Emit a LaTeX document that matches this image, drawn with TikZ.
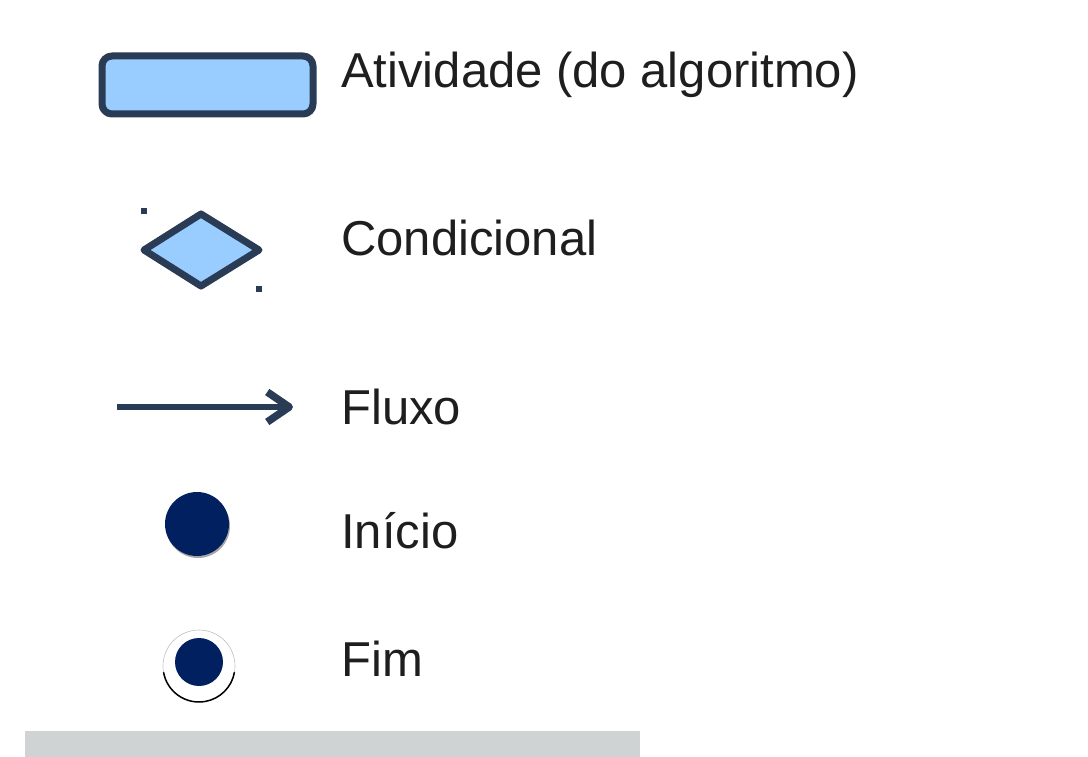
\documentclass[tikz,border=0pt]{standalone}
\usepackage{fontspec}
\setmainfont{Liberation Sans}
\usetikzlibrary{arrows.meta,shapes.geometric}
\definecolor{edgecolor}{HTML}{293B55}
\definecolor{boxfill}{HTML}{99CCFF}
\definecolor{dotcolor}{HTML}{002060}
\definecolor{barcolor}{HTML}{CFD3D4}
\definecolor{textcolor}{HTML}{1E1E1E}

\begin{document}
\begin{tikzpicture}[x=1pt, y=-1pt,
  lbl/.style={anchor=base west, inner sep=0pt, text=textcolor,
              font=\fontsize{49}{59}\selectfont},
  shapeline/.style={draw=edgecolor, line width=7pt, line join=round},
  flow/.style={-{Straight Barb[length=22pt,width=30pt,line width=7.5pt,line join=round]},
               draw=edgecolor, line width=6pt}]
  \useasboundingbox (0,0) rectangle (1088,757);
  % Atividade
  \draw[shapeline, fill=boxfill, rounded corners=10pt] (102,56) rectangle (313,114);
  \node[lbl] (ativ) at (341,88) {Atividade (do algoritmo)};
  % Condicional
  \draw[shapeline, fill=boxfill] (144,250) -- (201,214) -- (259,250) -- (201,286) -- cycle;
  \fill[edgecolor] (141,208) rectangle (147,214);
  \fill[edgecolor] (256,286) rectangle (262,292);
  \node[lbl] (cond) at (341,255) {Condicional};
  % Fluxo
  \coordinate (fluxoA) at (117,407);
  \coordinate (fluxoB) at (293,407);
  \draw[flow] (fluxoA) -- (fluxoB);
  \node[lbl] (fluxo) at (341,424) {Fluxo};
  % Inicio
  \fill[black!35] (198,526) circle (32pt);
  \fill[dotcolor] (197,524) circle (32pt);
  \node[lbl] (inicio) at (341,548) {Início};
  % Fim
  \draw[black!25, line width=0.6pt] (199,666) circle (36pt);
  \draw[black, line width=1.5pt] (199,666) ++(190:36pt) arc (190:350:36pt);
  \fill[dotcolor] (199,662) circle (24pt);
  \node[lbl] (fim) at (341,676) {Fim};
  % barra
  \fill[barcolor] (25,731) rectangle (640,757);
\end{tikzpicture}
\end{document}
